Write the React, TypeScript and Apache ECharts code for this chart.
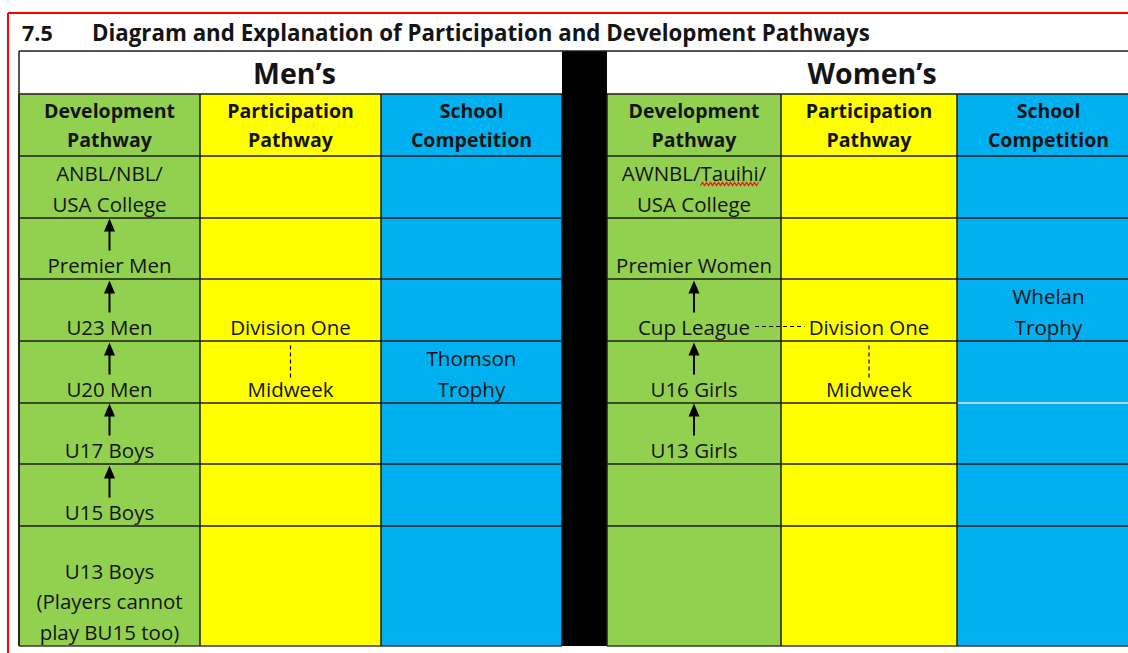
import React, { useEffect, useRef } from "react";
import * as echarts from "echarts";

// ---------- content ----------
const sectionNumber = "7.5";
const title = "Diagram and Explanation of Participation and Development Pathways";
const groupTitles = ["Men’s", "Women’s"];
const columnHeaders = ["Development\nPathway", "Participation\nPathway", "School\nCompetition"];

const menDevelopment = [
  "ANBL/NBL/\nUSA College",
  "Premier Men",
  "U23 Men",
  "U20 Men",
  "U17 Boys",
  "U15 Boys",
  "U13 Boys\n(Players cannot\nplay BU15 too)",
];
const menParticipation = ["", "", "Division One", "Midweek", "", "", ""];
const menSchool = ["", "", "", "Thomson\nTrophy", "", "", ""];

const womenDevelopment = [
  "AWNBL/Tauihi/\nUSA College",
  "Premier Women",
  "Cup League",
  "U16 Girls",
  "U13 Girls",
  "",
  "",
];
const womenParticipation = ["", "", "Division One", "Midweek", "", "", ""];
const womenSchool = ["", "", "Whelan\nTrophy", "", "", "", ""];

// rows (in the development column) that show an upward arrow
const menArrowRows = [1, 2, 3, 4, 5];
const womenArrowRows = [2, 3, 4];
// dashed links: [row, col] -> [row, col]
const menLinks = [[[2, 1], [3, 1]]];
const womenLinks = [
  [[2, 0], [2, 1]],
  [[2, 1], [3, 1]],
];
const misspelledWord = "Tauihi";

// ---------- layout ----------
const TABLE_LEFT = 19;
const TABLE_RIGHT = 1140;
const MEN_COLS = [19, 200, 381, 562];
const WOMEN_COLS = [607, 781, 957, 1140];
const Y_TOP = 51;
const Y_GROUP = 94;
const Y_HEAD = 156;
const ROW_BOUNDS = [156, 218, 279, 341, 403, 464, 526, 646];
const LINE_H = 30.5;
const COL_COLORS = ["#92D050", "#FFFF00", "#00B0F0"];
const GRID = "#1c1c1c";
const TEXT = "#141414";
const FONT = '"Open Sans", "Noto Sans", sans-serif';
const FONT_SIZE = 20.5;

export default function App() {
  const ref = useRef<HTMLDivElement>(null);
  useEffect(() => {
    const chart = echarts.init(ref.current!, null, { renderer: "svg" });
    const ctx = document.createElement("canvas").getContext("2d")!;
    const measure = (s: string, size = FONT_SIZE, weight = "normal") => {
      ctx.font = `${weight} ${size}px "Open Sans"`;
      return ctx.measureText(s).width;
    };
    const els: any[] = [];
    const text = (x: number, y: number, t: string, size = FONT_SIZE, weight = "normal", align = "center") =>
      els.push({
        type: "text",
        x,
        y,
        silent: true,
        style: {
          text: t,
          fontSize: size,
          fontWeight: weight,
          fontFamily: FONT,
          fill: TEXT,
          align,
          verticalAlign: "middle",
        },
      });
    const line = (x1: number, y1: number, x2: number, y2: number, stroke = GRID, w = 1.5, dash?: number[]) =>
      els.push({
        type: "line",
        silent: true,
        shape: { x1, y1, x2, y2 },
        style: { stroke, lineWidth: w, lineDash: dash },
      });

    // red frame
    line(8, 13, 1140, 13, "#ff0000", 2);
    line(8, 13, 8, 660, "#ff0000", 2);

    // title
    text(22, 32, sectionNumber, 21.5, "bold", "left");
    text(92, 32, title, 22.3, "bold", "left");

    const groups = [
      { cols: MEN_COLS, data: [menDevelopment, menParticipation, menSchool], arrows: menArrowRows, links: menLinks },
      { cols: WOMEN_COLS, data: [womenDevelopment, womenParticipation, womenSchool], arrows: womenArrowRows, links: womenLinks },
    ];

    // fills
    groups.forEach((g) => {
      for (let c = 0; c < 3; c++) {
        els.push({
          type: "rect",
          silent: true,
          shape: { x: g.cols[c], y: Y_GROUP, width: g.cols[c + 1] - g.cols[c], height: ROW_BOUNDS[ROW_BOUNDS.length - 1] - Y_GROUP },
          style: { fill: COL_COLORS[c] },
        });
      }
    });
    // black separator
    els.push({
      type: "rect",
      silent: true,
      shape: { x: MEN_COLS[3], y: Y_TOP, width: WOMEN_COLS[0] - MEN_COLS[3], height: ROW_BOUNDS[ROW_BOUNDS.length - 1] - Y_TOP },
      style: { fill: "#000" },
    });

    // grid lines
    const yBottom = ROW_BOUNDS[ROW_BOUNDS.length - 1];
    line(TABLE_LEFT, Y_TOP, TABLE_RIGHT, Y_TOP);
    line(TABLE_LEFT, Y_TOP, TABLE_LEFT, yBottom);
    groups.forEach((g, gi) => {
      const x0 = g.cols[0];
      const x1 = g.cols[3];
      [Y_GROUP, ...ROW_BOUNDS].forEach((y, i) => {
        if (gi === 1 && y === 403) {
          line(x0, y, g.cols[2], y);
          line(g.cols[2], y, x1, y, "#e6e6e6", 1.5);
        } else {
          line(x0, y, x1, y, i === ROW_BOUNDS.length ? "#3a3a3a" : GRID, 1.5);
        }
      });
      for (let c = 0; c <= 3; c++) line(g.cols[c], Y_GROUP, g.cols[c], yBottom);
      // group title
      text((x0 + Math.min(x1, 1137)) / 2 + (gi === 0 ? 4 : 0), 73, groupTitles[gi], 28.5, "bold");
      // column headers
      for (let c = 0; c < 3; c++) {
        const cx = (g.cols[c] + g.cols[c + 1]) / 2;
        const lines = columnHeaders[c].split("\n");
        lines.forEach((l, li) => {
          text(cx, (Y_GROUP + Y_HEAD) / 2 + (li - (lines.length - 1) / 2) * 29, l, 19.5, "bold");
        });
      }
      // body cells
      const lineCenter = (r: number, li: number, n: number) => ROW_BOUNDS[r + 1] - 14.5 - (n - 1 - li) * LINE_H;
      for (let c = 0; c < 3; c++) {
        const cx = (g.cols[c] + g.cols[c + 1]) / 2;
        g.data[c].forEach((cell, r) => {
          if (!cell) return;
          const lines = cell.split("\n");
          lines.forEach((l, li) => {
            const cy = lineCenter(r, li, lines.length);
            text(cx, cy, l);
            const idx = l.indexOf(misspelledWord);
            if (idx >= 0) {
              const total = measure(l);
              const sx = cx - total / 2 + measure(l.slice(0, idx));
              const w = measure(misspelledWord);
              const pts: number[][] = [];
              for (let k = 0; k <= Math.round(w / 2); k++) pts.push([sx + k * 2, cy + 11 + (k % 2 ? -1.5 : 1.5)]);
              els.push({ type: "polyline", silent: true, shape: { points: pts }, style: { stroke: "#e0201a", lineWidth: 1.3, fill: null } });
            }
          });
        });
      }
      // arrows
      const ax = (g.cols[0] + g.cols[1]) / 2;
      g.arrows.forEach((r) => {
        const cy = lineCenter(r, 0, 1);
        const tip = cy - 46;
        const tail = cy - 14;
        line(ax, tip + 10, ax, tail, "#000", 2);
        els.push({
          type: "polygon",
          silent: true,
          shape: { points: [[ax, tip], [ax - 5.5, tip + 13], [ax + 5.5, tip + 13]] },
          style: { fill: "#000" },
        });
      });
      // dashed links
      g.links.forEach(([[r1, c1], [r2, c2]]) => {
        if (c1 === c2) {
          const cx = (g.cols[c1] + g.cols[c1 + 1]) / 2;
          line(cx, lineCenter(r1, 0, 1) + 19, cx, lineCenter(r2, 0, 1) - 11, "#000", 1.2, [4, 3]);
        } else {
          const cy = lineCenter(r1, 0, 1);
          const cxa = (g.cols[c1] + g.cols[c1 + 1]) / 2;
          const cxb = (g.cols[c2] + g.cols[c2 + 1]) / 2;
          const xa = cxa + measure(g.data[c1][r1]) / 2 + 5;
          const xb = cxb - measure(g.data[c2][r2]) / 2 - 4;
          line(xa, cy, xb, cy, "#000", 1.2, [4, 3]);
        }
      });
    });

    chart.setOption({ animation: false, graphic: { elements: els } });
    return () => chart.dispose();
  }, []);
  return (
    <div
      ref={ref}
      style={{ position: "fixed", left: 0, top: 0, width: 1128, height: 653, background: "#fff" }}
    />
  );
}
